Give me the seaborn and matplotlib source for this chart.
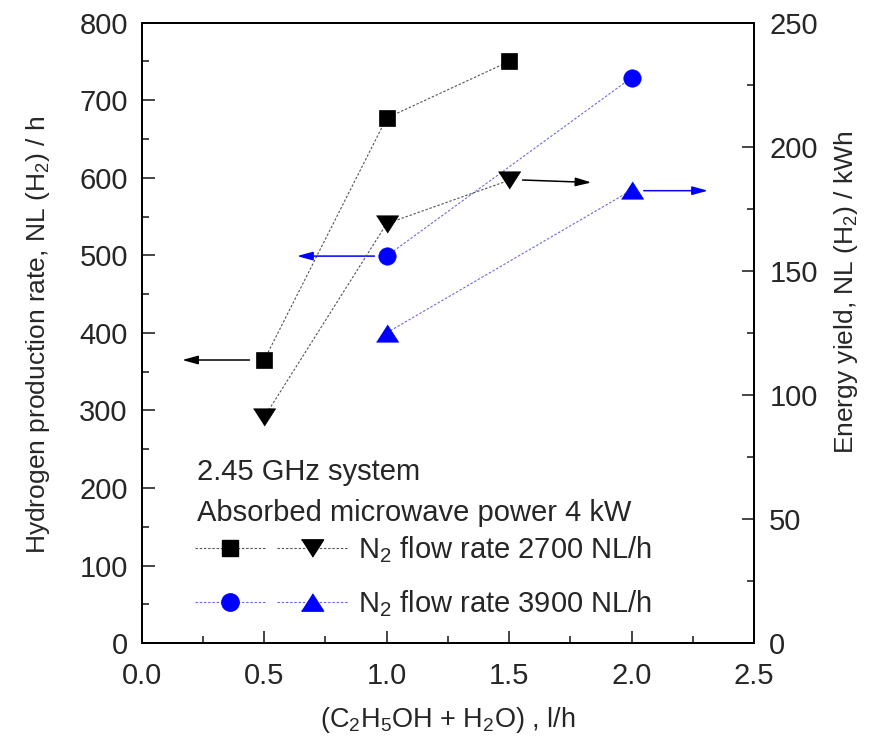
import matplotlib
matplotlib.use("Agg")
import matplotlib.pyplot as plt
from matplotlib.lines import Line2D
from matplotlib.legend_handler import HandlerTuple
from matplotlib.ticker import MultipleLocator
import seaborn as sns
import pandas as pd

sns.set_style("ticks")
plt.rcParams["font.family"] = ["Liberation Sans", "DejaVu Sans"]
plt.rcParams["mathtext.fontset"] = "custom"
plt.rcParams["mathtext.rm"] = "Liberation Sans"
plt.rcParams["mathtext.it"] = "Liberation Sans:italic"

# Hydrogen production rate (left axis), NL(H2)/h
flow_2700_x = [0.5, 1.0, 1.5]
rate_2700 = [365, 677, 750]
flow_3900_x = [1.0, 2.0]
rate_3900 = [499, 729]

# Energy yield (right axis), NL(H2)/kWh
yield_2700 = [91, 169, 186.5]
yield_3900 = [125, 182.5]

BLUE = "#0000ff"
LINE_BLACK = "#555555"
LINE_BLUE = "#6a6ae0"
DOTS = (0, (2.2, 1.6))

# flattened triangles (wider than tall)
TRI_UP = [(-1, -0.78), (1, -0.78), (0, 0.78)]
TRI_DOWN = [(-1, 0.78), (1, 0.78), (0, -0.78)]

fig = plt.figure(figsize=(8.75, 7.46), dpi=100)
ax = fig.add_axes([0.162, 0.138, 0.6997, 0.8316])
ax2 = ax.twinx()

def series(axis, x, y, marker, color, lcolor, ms):
    df = pd.DataFrame({"x": x, "y": y})
    sns.lineplot(data=df, x="x", y="y", ax=axis, color=lcolor, linestyle=DOTS,
                 linewidth=0.8, marker=marker, markersize=ms, markerfacecolor=color,
                 markeredgecolor=color, markeredgewidth=0.5, zorder=3)

series(ax, flow_2700_x, rate_2700, "s", "black", LINE_BLACK, 11.5)
series(ax, flow_3900_x, rate_3900, "o", BLUE, LINE_BLUE, 12.5)
series(ax2, flow_2700_x, yield_2700, TRI_DOWN, "black", LINE_BLACK, 16)
series(ax2, flow_3900_x, yield_3900, TRI_UP, BLUE, LINE_BLUE, 16)

ax.set_xlim(0, 2.5)
ax.set_ylim(0, 800)
ax2.set_ylim(0, 250)

# arrows pointing to the axis each series belongs to
arrow = dict(arrowstyle="-|>,head_length=0.95,head_width=0.26", lw=1.1,
             mutation_scale=10, shrinkA=0, shrinkB=0)
ax.annotate("", xy=(0.165, 365), xytext=(0.44, 365), arrowprops=dict(color="black", **arrow))
ax.annotate("", xy=(0.634, 499), xytext=(0.95, 499), arrowprops=dict(color=BLUE, **arrow))
ax2.annotate("", xy=(1.836, 185.6), xytext=(1.555, 186.6), arrowprops=dict(color="black", **arrow))
ax2.annotate("", xy=(2.312, 182.3), xytext=(2.05, 182.3), arrowprops=dict(color=BLUE, **arrow))

ax.xaxis.set_major_locator(MultipleLocator(0.5))
ax.xaxis.set_minor_locator(MultipleLocator(0.25))
ax.yaxis.set_major_locator(MultipleLocator(100))
ax.yaxis.set_minor_locator(MultipleLocator(50))
ax2.yaxis.set_major_locator(MultipleLocator(50))
ax2.yaxis.set_minor_locator(MultipleLocator(25))
ax.xaxis.set_major_formatter(plt.FormatStrFormatter("%.1f"))

for a in (ax, ax2):
    a.tick_params(which="major", direction="in", length=9, width=1.2, labelsize=21)
    a.tick_params(which="minor", direction="in", length=5, width=1.2)
    for s in a.spines.values():
        s.set_linewidth(1.4)
        s.set_visible(True)
        s.set_color("black")
ax.tick_params(which="both", top=False, right=False)
ax.tick_params(axis="y", pad=10)
ax.tick_params(axis="x", pad=14)
ax2.tick_params(which="both", left=False, right=True, labelright=True)
ax2.tick_params(axis="y", pad=11)

ax.set_xlabel("(C$_2$H$_5$OH + H$_2$O) , l/h", fontsize=19.5)
ax.xaxis.set_label_coords(0.5, -0.1)
ax.set_ylabel("Hydrogen production rate, NL (H$_2$) / h", fontsize=19)
ax.yaxis.set_label_coords(-0.146, 0.497)
ax2.set_ylabel("Energy yield, NL (H$_2$) / kWh", fontsize=19)
ax2.yaxis.set_label_coords(1.127, 0.565)

ax.text(0.091, 0.275, "2.45 GHz system", transform=ax.transAxes, fontsize=21, va="center")
ax.text(0.091, 0.21, "Absorbed microwave power 4 kW", transform=ax.transAxes, fontsize=21, va="center")

def handle(marker, color, lcolor, ms):
    return Line2D([], [], color=lcolor, linestyle=DOTS, linewidth=0.8, marker=marker,
                  markersize=ms, markerfacecolor=color, markeredgecolor=color)

h1 = (handle("s", "black", LINE_BLACK, 11), handle(TRI_DOWN, "black", LINE_BLACK, 16))
h2 = (handle("o", BLUE, LINE_BLUE, 12.5), handle(TRI_UP, BLUE, LINE_BLUE, 16))
leg = ax.legend([h1, h2], ["N$_2$ flow rate 2700 NL/h", "N$_2$ flow rate 3900 NL/h"],
                handler_map={tuple: HandlerTuple(ndivide=2, pad=0.4)},
                loc="upper left", bbox_to_anchor=(0.087, 0.175), frameon=False,
                borderpad=0, borderaxespad=0,
                fontsize=21, handlelength=5.2, handletextpad=0.38, labelspacing=0.8)

fig.savefig("out.png", dpi=100)
